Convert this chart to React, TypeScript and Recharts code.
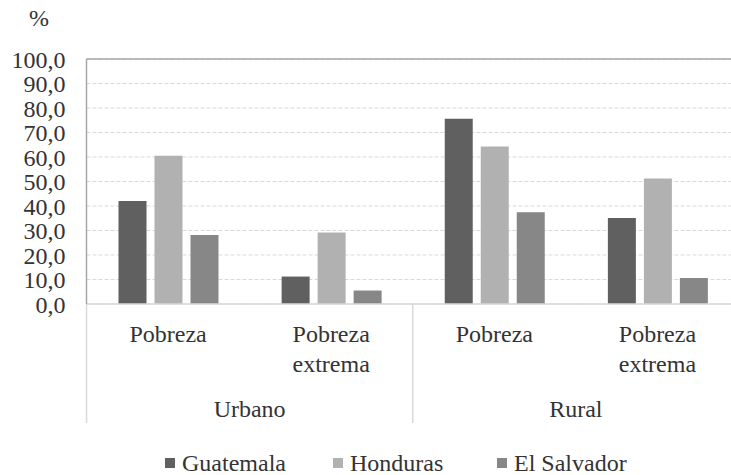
import React from 'react';
import { BarChart, Bar, XAxis, YAxis, CartesianGrid, Legend, ReferenceLine } from 'recharts';

const categories = ['Pobreza', 'Pobreza extrema', 'Pobreza', 'Pobreza extrema'];
const groups = ['Urbano', 'Urbano', 'Rural', 'Rural'];
const guatemala = [42.0, 11.2, 75.6, 35.1];
const honduras = [60.5, 29.2, 64.3, 51.2];
const elSalvador = [28.2, 5.5, 37.4, 10.6];
const yTicks = [0, 10, 20, 30, 40, 50, 60, 70, 80, 90, 100];
const seriesNames = ['Guatemala', 'Honduras', 'El Salvador'];
const seriesColors = ['#606060', '#b1b1b1', '#878787'];

const data = categories.map((c, i) => ({
  key: i,
  Guatemala: guatemala[i],
  Honduras: honduras[i],
  'El Salvador': elSalvador[i],
}));

const FONT = '"Liberation Serif", serif';
const TEXT = '#333333';
const CSS = `.serifchart, .serifchart * { font-family: "Liberation Serif", serif !important; }`;

const fmt = (v: number) => v.toFixed(1).replace('.', ',');

function CatTick(props: any) {
  const { x, y, payload, index, width, visibleTicksCount } = props;
  const i = typeof payload?.value === 'number' ? payload.value : index;
  const bw = width && visibleTicksCount ? width / visibleTicksCount : 163;
  const lines = categories[i].split(' ');
  const startsGroup = i === 0 || groups[i] !== groups[i - 1];
  let n = 0;
  if (startsGroup) {
    while (i + n < groups.length && groups[i + n] === groups[i]) n++;
  }
  const isLast = i === categories.length - 1;
  return (
    <g>
      {lines.map((l, k) => (
        <text key={k} x={x} y={y + 37.5 + k * 30} textAnchor="middle" fontFamily={FONT} fontSize={24} fill={TEXT}>
          {l}
        </text>
      ))}
      {startsGroup && (
        <>
          <line x1={x - bw / 2} x2={x - bw / 2} y1={y} y2={y + 119} stroke="#d9d9d9" strokeWidth={1.5} />
          <text x={x - bw / 2 + (n * bw) / 2} y={y + 113} textAnchor="middle" fontFamily={FONT} fontSize={24} fill={TEXT}>
            {groups[i]}
          </text>
        </>
      )}
      {isLast && <line x1={x + bw / 2} x2={x + bw / 2} y1={y} y2={y + 119} stroke="#d9d9d9" strokeWidth={1.5} />}
    </g>
  );
}

const itemWidths = [168, 164, undefined];

function LegendContent() {
  return (
    <div style={{ display: 'flex', alignItems: 'center', paddingLeft: 165, fontFamily: FONT, fontSize: 24, lineHeight: '24px', color: TEXT, whiteSpace: 'nowrap' }}>
      {seriesNames.map((s, i) => (
        <div key={s} style={{ display: 'flex', alignItems: 'center', width: itemWidths[i] }}>
          <span style={{ display: 'inline-block', width: 10, height: 10, background: seriesColors[i], marginRight: 7 }} />
          <span>{s}</span>
        </div>
      ))}
    </div>
  );
}

export default function App() {
  return (
    <div className="serifchart" style={{ position: 'absolute', left: 0, top: 0, width: 731, height: 475, overflow: 'hidden', background: '#fff' }}>
      <style>{CSS}</style>
      <div style={{ position: 'absolute', left: 29, top: 6, fontSize: 24, lineHeight: '24px', color: TEXT }}>%</div>
      <BarChart
        width={760}
        height={475}
        data={data}
        margin={{ top: 59, right: 21, left: 0, bottom: 0 }}
        barSize={28}
        barGap={8}
      >
        <CartesianGrid vertical={false} stroke="#d9d9d9" strokeDasharray="4 2" />
        <XAxis
          dataKey="key"
          type="category"
          interval={0}
          height={147}
          tickLine={false}
          tickSize={0}
          tickMargin={0}
          axisLine={{ stroke: '#d9d9d9', strokeWidth: 1.5 }}
          tick={<CatTick />}
        />
        <YAxis
          width={86.5}
          domain={[0, 100]}
          ticks={yTicks}
          interval={0}
          tickFormatter={fmt}
          tickLine={false}
          tickSize={0}
          tickMargin={21}
          axisLine={{ stroke: '#a6a6a6', strokeWidth: 1.5 }}
          tick={{ fontFamily: FONT, fontSize: 24, fill: TEXT }}
        />
        <ReferenceLine y={100} stroke="#a6a6a6" strokeWidth={1.5} />
        {seriesNames.map((s, i) => (
          <Bar key={s} dataKey={s} fill={seriesColors[i]} isAnimationActive={false} />
        ))}
        <Legend verticalAlign="bottom" height={24} wrapperStyle={{ left: 0, width: 731 }} content={<LegendContent />} />
      </BarChart>
    </div>
  );
}
